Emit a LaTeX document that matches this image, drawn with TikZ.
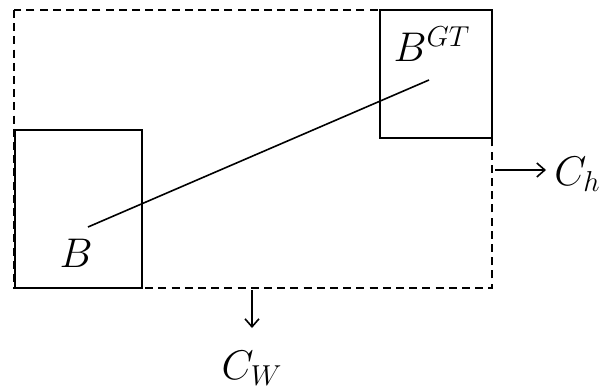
\documentclass[tikz,border=0pt]{standalone}
\usetikzlibrary{arrows.meta}
\begin{document}
\begin{tikzpicture}[x=0.5pt,y=-0.5pt,
  solidbox/.style={draw,line width=1pt,inner sep=0pt},
  region/.style={draw,line width=1pt,dash pattern=on 4pt off 2.6pt},
  conn/.style={line width=0.8pt},
  arr/.style={line width=0.8pt,-{Straight Barb[length=4pt,width=7pt]}},
  lbl/.style={inner sep=0pt,font=\fontsize{22}{26}\selectfont}]
\useasboundingbox (0,0) rectangle (599,391);
\clip (0,0) rectangle (599,391);
% dashed enclosing region
\draw[region] (14,10) rectangle (492,288);
% boxes
\node[solidbox,minimum width=63.5pt,minimum height=79pt,fill=white] (B) at (78.5,209) {};
\node[solidbox,minimum width=56pt,minimum height=64pt,fill=white] (BGT) at (436,74) {};
\coordinate (p1) at (88,227);
\coordinate (p2) at (429,80);
\draw[conn] (p1) -- (p2);
\node[lbl] (lB) at (76,253) {$B$};
\node[lbl] (lBGT) at (432,44) {$B^{GT}$};
% arrows
\coordinate (ah1) at (495,170);
\coordinate (ah2) at (546,170);
\draw[arr] (ah1) -- (ah2);
\node[lbl,anchor=west] (Ch) at (554,174) {$C_h$};
\coordinate (aw1) at (252,290);
\coordinate (aw2) at (252,328);
\draw[arr] (aw1) -- (aw2);
\node[lbl] (Cw) at (252,368) {$C_W$};
\end{tikzpicture}
\end{document}
